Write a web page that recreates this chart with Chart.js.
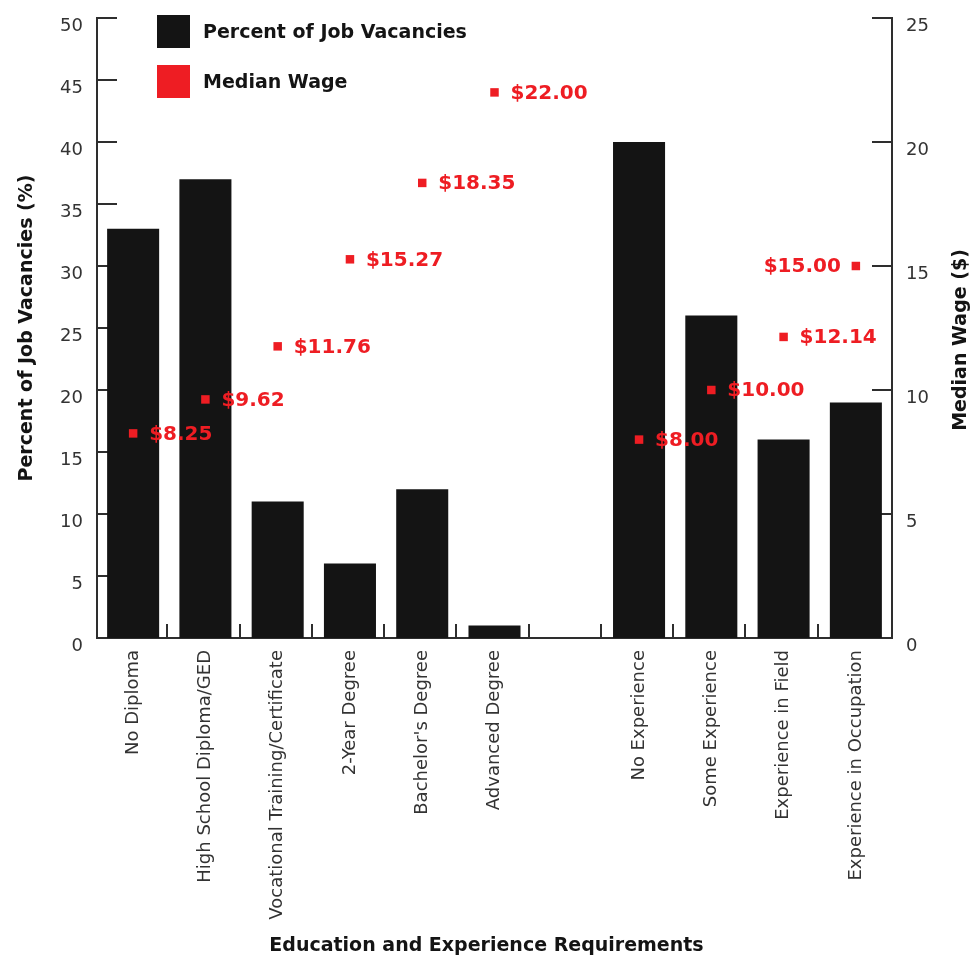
<!DOCTYPE html>
<html>
<head>
<meta charset="utf-8">
<script src="https://cdn.jsdelivr.net/npm/chart.js@4.4.0/dist/chart.umd.min.js"></script>
<style>
  html, body { margin: 0; padding: 0; background: #ffffff; }
  canvas { display: block; }
</style>
</head>
<body>
<canvas id="chart" width="979" height="960"></canvas>
<script>
// Requirement categories (the empty slot separates education from experience)
const categories = [
  'No Diploma',
  'High School Diploma/GED',
  'Vocational Training/Certificate',
  '2-Year Degree',
  "Bachelor's Degree",
  'Advanced Degree',
  '',
  'No Experience',
  'Some Experience',
  'Experience in Field',
  'Experience in Occupation'
];

// Share of job vacancies (%) for each requirement
const vacancyPercent = [33, 37, 11, 6, 12, 1, null, 40, 26, 16, 19];

// Median hourly wage ($) for each requirement
const medianWage = [8.25, 9.62, 11.76, 15.27, 18.35, 22.00, null, 8.00, 10.00, 12.14, 15.00];

// Which side of its marker each wage label sits on
const wageLabelSide = ['right', 'right', 'right', 'right', 'right', 'right', null, 'right', 'right', 'right', 'left'];

// Axis tick values
const percentTicks = [0, 5, 10, 15, 20, 25, 30, 35, 40, 45, 50];
const wageTicks = [0, 5, 10, 15, 20, 25];

const seriesNames = ['Percent of Job Vacancies', 'Median Wage'];
const axisTitles = {
  x: 'Education and Experience Requirements',
  y: 'Percent of Job Vacancies (%)',
  y1: 'Median Wage ($)'
};

const INK = '#141414';
const RED = '#ee1d23';
const AXIS = '#2e2e2e';
const TICK_TEXT = '#333333';
const FONT = '"DejaVu Sans", sans-serif';

function stroke(ctx, x1, y1, x2, y2) {
  ctx.beginPath();
  ctx.moveTo(x1, y1);
  ctx.lineTo(x2, y2);
  ctx.stroke();
}

// Fixed axis sizes so the plot area lands where it should
function fixSize(prop, size) {
  return function (scale) {
    scale[prop] = size;
    scale.paddingTop = 0;
    scale.paddingBottom = 0;
    scale.paddingLeft = 0;
    scale.paddingRight = 0;
  };
}

// Inward tick marks, wage labels, legend and axis titles
const decorations = {
  id: 'decorations',
  beforeDatasetsDraw(chart) {
    const { ctx, chartArea: a, scales } = chart;
    ctx.save();
    ctx.strokeStyle = AXIS;
    ctx.lineWidth = 2;
    scales.y.ticks.forEach(t => {
      const py = Math.round(scales.y.getPixelForValue(t.value));
      stroke(ctx, a.left, py, a.left + 20, py);
    });
    scales.y1.ticks.forEach(t => {
      const py = Math.round(scales.y1.getPixelForValue(t.value));
      stroke(ctx, a.right - 20, py, a.right, py);
    });
    for (let i = 1; i < categories.length; i++) {
      const px = Math.round((scales.x.getPixelForValue(i - 1) + scales.x.getPixelForValue(i)) / 2) - 2;
      stroke(ctx, px, a.bottom, px, a.bottom - 14);
    }
    ctx.restore();
  },
  afterDatasetsDraw(chart) {
    const { ctx } = chart;
    const meta = chart.getDatasetMeta(1);
    ctx.save();
    ctx.font = 'bold 20px ' + FONT;
    ctx.fillStyle = RED;
    ctx.textBaseline = 'middle';
    meta.data.forEach((pt, i) => {
      const v = medianWage[i];
      if (v === null || v === undefined) return;
      const text = '$' + v.toFixed(2);
      if (wageLabelSide[i] === 'left') {
        ctx.textAlign = 'right';
        ctx.fillText(text, pt.x - 15, pt.y + 1);
      } else {
        ctx.textAlign = 'left';
        ctx.fillText(text, pt.x + 16, pt.y + 1);
      }
    });
    ctx.restore();
  },
  afterDraw(chart) {
    const { ctx, chartArea: a } = chart;
    ctx.save();
    // legend
    const colors = [chart.data.datasets[0].backgroundColor, chart.data.datasets[1].backgroundColor];
    ctx.font = 'bold 19px ' + FONT;
    ctx.textBaseline = 'middle';
    ctx.textAlign = 'left';
    seriesNames.forEach((name, i) => {
      const top = 15 + i * 50;
      ctx.fillStyle = colors[i];
      ctx.fillRect(157, top, 33, 33);
      ctx.fillStyle = INK;
      ctx.fillText(name, 203, top + 18);
    });
    // axis titles
    ctx.fillStyle = INK;
    ctx.textAlign = 'center';
    ctx.fillText(axisTitles.x, (a.left + a.right) / 2 - 8, 946);
    ctx.save();
    ctx.translate(27, (a.top + a.bottom) / 2);
    ctx.rotate(-Math.PI / 2);
    ctx.fillText(axisTitles.y, 0, 0);
    ctx.restore();
    ctx.save();
    ctx.translate(961, (a.top + a.bottom) / 2 + 12);
    ctx.rotate(-Math.PI / 2);
    ctx.fillText(axisTitles.y1, 0, 0);
    ctx.restore();
    ctx.restore();
  }
};

new Chart(document.getElementById('chart'), {
  type: 'bar',
  data: {
    labels: categories,
    datasets: [
      {
        type: 'bar',
        label: seriesNames[0],
        data: vacancyPercent,
        backgroundColor: INK,
        borderWidth: 0,
        barPercentage: 0.72,
        categoryPercentage: 1.0,
        yAxisID: 'y',
        order: 1
      },
      {
        type: 'line',
        label: seriesNames[1],
        data: medianWage,
        showLine: false,
        pointStyle: 'rect',
        pointRadius: 6,
        pointBorderWidth: 0,
        backgroundColor: RED,
        borderColor: RED,
        yAxisID: 'y1',
        order: 0
      }
    ]
  },
  options: {
    responsive: false,
    animation: false,
    layout: { padding: { top: 18, left: 0, right: 0, bottom: 0 } },
    plugins: {
      legend: { display: false },
      tooltip: { enabled: false }
    },
    scales: {
      x: {
        type: 'category',
        offset: true,
        grid: { display: false, drawTicks: false },
        border: { display: true, color: AXIS, width: 2 },
        ticks: {
          autoSkip: false,
          maxRotation: 90,
          minRotation: 90,
          padding: 12,
          color: TICK_TEXT,
          font: { family: FONT, size: 18 }
        },
        afterFit: fixSize('height', 322)
      },
      y: {
        position: 'left',
        min: 0,
        max: 50,
        grid: { display: false, drawTicks: false },
        border: { display: true, color: AXIS, width: 2 },
        ticks: {
          padding: 14,
          labelOffset: 8,
          color: TICK_TEXT,
          font: { family: FONT, size: 18 }
        },
        afterBuildTicks(scale) { scale.ticks = percentTicks.map(v => ({ value: v })); },
        afterFit: fixSize('width', 97)
      },
      y1: {
        position: 'right',
        min: 0,
        max: 25,
        grid: { display: false, drawTicks: false },
        border: { display: true, color: AXIS, width: 2 },
        ticks: {
          padding: 14,
          labelOffset: 8,
          color: TICK_TEXT,
          font: { family: FONT, size: 18 }
        },
        afterBuildTicks(scale) { scale.ticks = wageTicks.map(v => ({ value: v })); },
        afterFit: fixSize('width', 87)
      }
    }
  },
  plugins: [decorations]
});
</script>
</body>
</html>
